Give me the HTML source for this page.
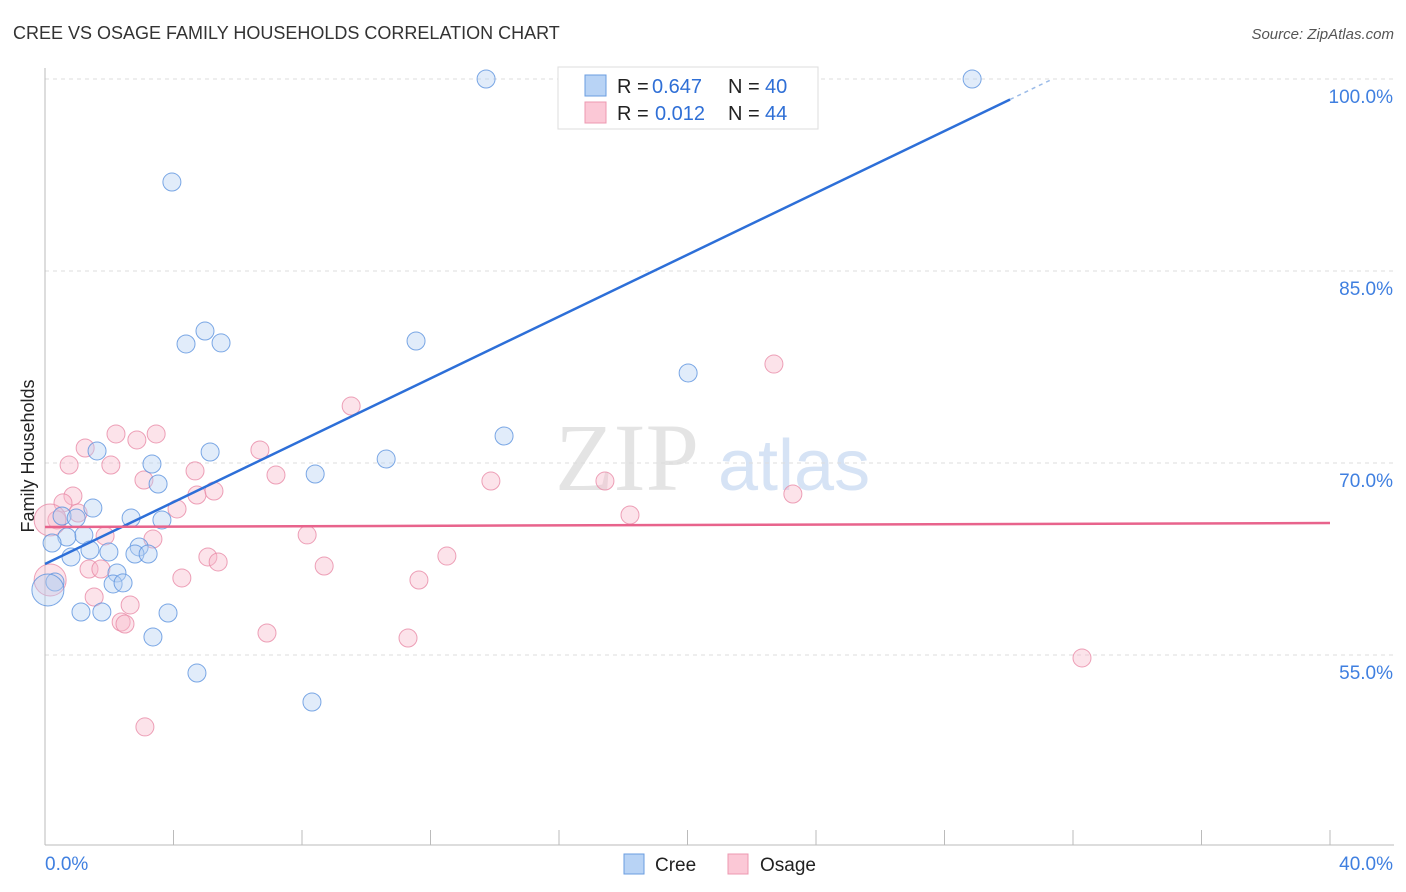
<!DOCTYPE html>
<html><head><meta charset="utf-8"><style>
body{margin:0;background:#fff;font-family:"Liberation Sans",sans-serif}
svg{display:block}
</style></head><body>
<svg id="c" width="1406" height="892">
<text x="13" y="39" font-size="18" fill="#333">CREE VS OSAGE FAMILY HOUSEHOLDS CORRELATION CHART</text>
<text x="1394" y="39" font-size="15" fill="#555" font-style="italic" text-anchor="end">Source: ZipAtlas.com</text>
<text x="555" y="490" font-size="96" fill="#e4e4e4" font-family="Liberation Serif,serif">ZIP</text>
<text x="718" y="490" font-size="72" fill="#d6e3f5">atlas</text>
<text transform="translate(34,456) rotate(-90)" font-size="18" fill="#222" text-anchor="middle">Family Households</text>
<g id="grid"></g><g id="pts"></g><g id="lines"></g>
<g>
<rect x="558" y="67" width="260" height="62" fill="#fff" stroke="#ddd"/>
<rect x="585" y="75" width="21" height="21" fill="#b8d3f5" stroke="#6a9de0"/>
<rect x="585" y="102" width="21" height="21" fill="#fbc8d6" stroke="#ec98b0"/>
<text y="93" font-size="20" fill="#222"><tspan x="617">R =</tspan><tspan x="652" fill="#2f6fd6">0.647</tspan><tspan x="728">N =</tspan><tspan x="765" fill="#2f6fd6">40</tspan></text>
<text y="120" font-size="20" fill="#222"><tspan x="617">R =</tspan><tspan x="655" fill="#2f6fd6">0.012</tspan><tspan x="728">N =</tspan><tspan x="765" fill="#2f6fd6">44</tspan></text>
</g>
<g>
<rect x="624" y="854" width="20" height="20" fill="#b8d3f5" stroke="#6a9de0"/>
<text x="655" y="871" font-size="19" fill="#222">Cree</text>
<rect x="728" y="854" width="20" height="20" fill="#fbc8d6" stroke="#ec98b0"/>
<text x="760" y="871" font-size="19" fill="#222">Osage</text>
</g>
</svg>
<script>
const creeX=[13.73,28.86,3.95,4.98,4.39,5.48,11.55,20.02,14.29,1.62,5.14,3.33,10.62,8.41,3.52,1.49,0.53,0.97,2.68,3.64,1.21,0.68,0.22,2.93,1.40,1.99,2.80,3.21,0.81,2.24,2.12,2.43,0.31,0.09,1.12,1.77,3.83,3.36,4.73,8.31];
const creeY=[100,100,91.95,80.31,79.3,79.38,79.53,77.03,72.11,70.94,70.86,69.92,70.31,69.14,68.36,66.48,65.86,65.7,65.7,65.55,64.37,64.22,63.75,63.44,63.2,63.05,62.89,62.89,62.66,61.41,60.55,60.63,60.7,60.08,58.36,58.36,58.28,56.41,53.59,51.33];
const creeBig=[33];
const osageX=[22.69,9.53,2.21,3.46,2.86,1.25,6.69,0.75,2.05,4.67,7.19,13.88,3.08,17.43,0.87,4.73,5.26,0.56,23.28,4.11,1.03,18.21,0.37,0.16,1.87,8.16,3.36,5.07,12.51,5.39,1.37,1.74,8.69,4.26,11.64,0.16,1.53,2.65,2.37,2.49,6.91,11.30,32.28,3.11];
const osageY=[77.73,74.45,72.27,72.27,71.8,71.17,71.02,69.84,69.84,69.38,69.06,68.59,68.67,68.59,67.42,67.5,67.81,66.88,67.58,66.41,66.09,65.94,65.55,65.55,64.3,64.38,64.06,62.66,62.73,62.27,61.72,61.72,61.95,61.02,60.86,60.86,59.53,58.91,57.58,57.42,56.72,56.33,54.77,49.38];
const osageBig=[23,35];
const creeTrend=[62.11,1.208];
const osageTrend=[65.0,0.0078];
const yTicks=[100,85,70,55];
const yTickLabels=["100.0%","85.0%","70.0%","55.0%"];
const xLabels=["0.0%","40.0%"];
const X=v=>45+v*1285/40, Y=v=>79+(100-v)*12.8;
const NS="http://www.w3.org/2000/svg";
function mk(p,t,a){const e=document.createElementNS(NS,t);for(const k in a)e.setAttribute(k,a[k]);p.appendChild(e);return e;}
const g=document.getElementById('grid');
yTicks.forEach((t,i)=>{
 const l=mk(g,'line',{x1:45,x2:1394,y1:Y(t),y2:Y(t),stroke:'#ddd','stroke-dasharray':'4,4'});
 
 
 const tx=mk(g,'text',{x:1393,y:Y(t)+24,'font-size':19,fill:'#3f7fe0','text-anchor':'end'});tx.textContent=yTickLabels[i];
 
 
});
mk(g,'line',{x1:45,x2:45,y1:68,y2:845,stroke:'#bbb'});
mk(g,'line',{x1:45,x2:1394,y1:845,y2:845,stroke:'#bbb'});
for(let i=0;i<=10;i++){mk(g,'line',{x1:X(i*4),x2:X(i*4),y1:830,y2:845,stroke:'#bbb'});}
xLabels.forEach((s,i)=>{const t=mk(g,'text',{x:i?1393:45,y:870,'font-size':19,fill:'#3f7fe0','text-anchor':i?'end':'start'});t.textContent=s;
 
 });
const P=document.getElementById('pts');
function pts(xs,ys,big,fill,stroke,name){xs.forEach((x,i)=>{const c=mk(P,'circle',{cx:X(x),cy:Y(ys[i]),r:big.includes(i)?16:9,fill:fill,'fill-opacity':0.4,stroke:stroke,'stroke-opacity':0.8,'stroke-width':1});
 
 });}
pts(osageX,osageY,osageBig,'#f8b9cb','#e88aa6','osage-point');
pts(creeX,creeY,creeBig,'#b3cff2','#5b92de','cree-point');
const L=document.getElementById('lines');
const cy=x=>creeTrend[0]+creeTrend[1]*x;
const xe=(98.4-creeTrend[0])/creeTrend[1];
const l1=mk(L,'line',{x1:X(0),y1:Y(cy(0)),x2:X(xe),y2:Y(cy(xe)),stroke:'#2d6fd8','stroke-width':2.5});


const xe2=(100-creeTrend[0])/creeTrend[1];
mk(L,'line',{x1:X(xe),y1:Y(cy(xe)),x2:X(xe2),y2:Y(cy(xe2)),stroke:'#9bbbe8','stroke-width':1.5,'stroke-dasharray':'4,4'});
const l2=mk(L,'line',{x1:X(0),y1:Y(osageTrend[0]),x2:X(40),y2:Y(osageTrend[0]+osageTrend[1]*40),stroke:'#e8638c','stroke-width':2.5});


</script>
</body></html>
